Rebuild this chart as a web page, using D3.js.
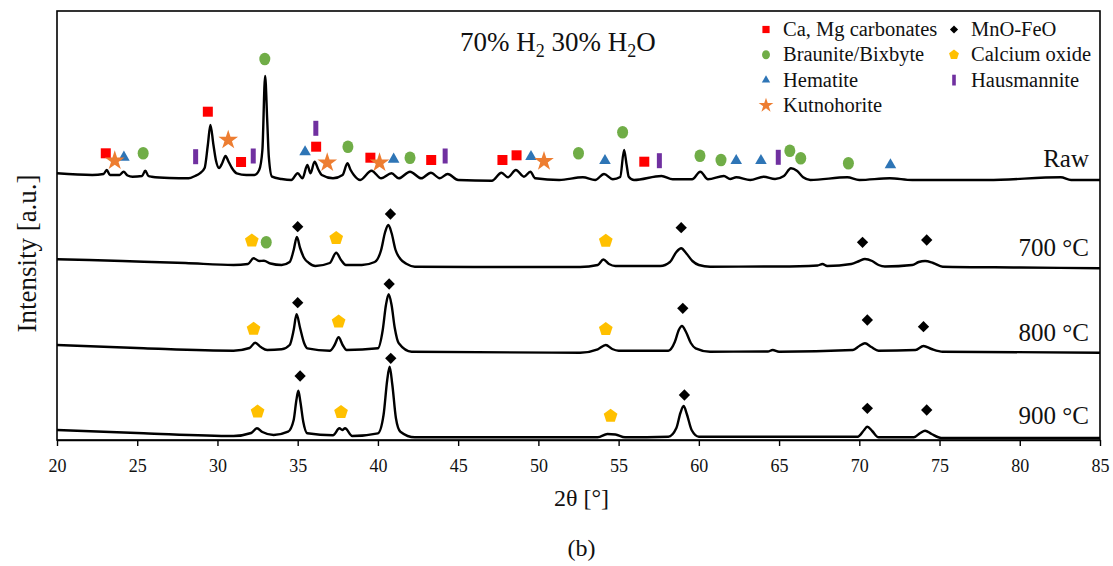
<!DOCTYPE html>
<html>
<head>
<meta charset="utf-8">
<script src="https://cdn.jsdelivr.net/npm/d3@7"></script>
<style>
  body { margin: 0; background: #fff; }
  svg text { font-family: "Liberation Serif", "Times New Roman", serif; fill: #111; }
</style>
</head>
<body>
<svg id="chart" width="1113" height="566"></svg>
<script>
// patrones DRX, [2theta, intensidad a.u.]
const patternNames = ["Raw", "700 °C", "800 °C", "900 °C"];

const rawTrace = [
  [20,266.7],[22.2,265],[22.9,266],[23.1,270],[23.3,265],[23.9,265],[24.15,268.3],[24.4,264.5],
  [24.7,263.3],[25.3,264],[25.5,269.3],[25.7,264],[25.9,263.3],[27,262],[28.2,261.7],[28.6,264],
  [28.9,266.7],[29.2,272],[29.4,295],[29.56,315],[29.75,295],[29.9,280],[30.1,272],[30.3,277],
  [30.5,284],[30.7,278],[30.9,272],[31.2,266.7],[31.8,265],[32.3,265],[32.6,270],[32.8,290],
  [32.97,364],[33.1,320],[33.2,283.3],[33.4,263.3],[34,261],[34.6,260],[35,266.7],[35.3,261.7],
  [35.6,275],[35.8,266.7],[36.05,278.3],[36.3,270],[36.5,265],[37.2,261.7],[37.8,265],[38.1,276.7],
  [38.3,270],[38.5,265],[38.9,260],[39.6,269.3],[40.2,261.7],[40.85,266.7],[41.3,261.7],[42,268.3],
  [42.7,261.7],[43.3,267.3],[43.85,261.7],[44.35,266],[45,260],[47.1,259.3],[47.7,267.3],[48.1,262.7],
  [48.6,270],[49.1,263.3],[49.5,268.3],[49.8,261.7],[51.3,260],[52.77,262.7],[53.54,260],[54.09,266],
  [54.64,260.7],[55.1,263],[55.34,290],[55.5,275],[55.63,263.3],[55.96,260],[57.67,264],[58.37,260.7],
  [59.58,260.7],[60.09,268.3],[60.57,260.7],[61.56,264],[61.95,261],[62.33,262.7],[63.2,260],[64.04,263.3],
  [64.75,261],[65.3,264],[65.74,271.7],[66.11,269.3],[66.5,262.7],[66.95,260],[69.25,262.7],[70,260],
  [71.9,261.7],[73.3,260],[78,260],[82.55,262.7],[83.2,260],[85,260]
];

const trace700 = [
  [20,180.7],[22,180],[25.4,178.3],[28,177],[31,175],[31.9,176],[32.25,181.7],[32.6,179],[32.9,179.3],
  [33.3,176.5],[34,175],[34.5,178],[34.75,190],[34.95,203],[35.15,192],[35.4,182],[35.7,177],[36.1,174],
  [37,177],[37.4,187.3],[37.7,180],[38,175],[39,175],[39.8,178],[40.2,190],[40.45,208],[40.65,215],
  [40.85,207],[41.1,190],[41.4,181],[41.8,176],[42.3,173.3],[46,173],[50,173],[52.6,173],[53.7,175],
  [54.05,180.5],[54.4,176],[54.8,174],[57.6,174],[58.2,178],[58.6,188],[58.9,191.7],[59.2,187],
  [59.6,179],[60,175],[60.7,173.3],[65,173.5],[67.4,174.5],[67.7,176],[68,174],[69.5,176],[70,179],
  [70.35,181],[70.8,179],[71.2,175],[71.6,173.5],[73.3,175],[73.7,178],[74.1,179],[74.6,177],
  [75.2,173.3],[80,172.5],[85,171.7]
];

const trace800 = [
  [20,95],[25.4,91.7],[31,89.3],[32,92],[32.35,97.3],[32.7,93],[33.1,90],[34,90.7],[34.5,95],
  [34.75,110],[34.93,125.7],[35.15,112],[35.4,97],[35.6,91.7],[37,89.3],[37.3,95],[37.55,102.7],
  [37.8,95],[38.05,90],[40,91.7],[40.3,110],[40.5,135],[40.67,145.7],[40.85,135],[41.05,112],
  [41.3,96.7],[42.1,88.3],[52.6,87.3],[53.7,90.7],[54.2,95],[54.6,91],[55,89.3],[58.1,89.3],
  [58.5,98],[58.75,110],[58.95,114],[59.2,108],[59.5,97],[59.8,91.7],[60.7,88.3],[64.3,88.5],
  [64.6,90],[65,88.3],[69.6,90],[70,94],[70.35,96.7],[70.75,93],[71.2,89.3],[73.5,90],[74,94],
  [74.5,91],[75.2,88.3],[85,87.3]
];

const trace900 = [
  [20,10],[25.4,6.7],[31,4],[32.1,7],[32.46,11.7],[32.8,8],[33.5,5],[34.4,8.3],[34.75,20],[34.92,40],
  [35.04,49.3],[35.17,38],[35.35,18],[35.6,6.7],[37.2,4.7],[37.6,11.7],[37.78,10],[37.95,11.7],[38.4,4],
  [40,6.7],[40.35,25],[40.58,60],[40.73,73.3],[40.9,55],[41.12,22],[41.4,8.3],[42.3,2.7],[52.6,2.7],
  [53.7,2.7],[54.3,6],[54.8,5.5],[55.4,2.7],[58.1,3.3],[58.6,12],[58.85,27],[59.05,34],[59.25,26],
  [59.55,10],[60,3.3],[69.9,3.3],[70.3,10],[70.5,13.3],[70.8,9],[71.2,2.7],[73.4,2.7],[73.8,7],
  [74.1,9.3],[74.5,6],[75.1,2],[85,2]
];

// fases identificadas: [2theta, intensidad del marcador]
const phaseNames = ["Ca, Mg carbonates", "Braunite/Bixbyte", "Hematite", "Kutnohorite",
                    "MnO-FeO", "Calcium oxide", "Hausmannite"];
const carbonates = [[23.04,286.7],[29.4,328.3],[31.47,278],[36.15,293.3],[39.53,282.3],[43.32,280],
                    [47.76,280],[48.64,284.7],[56.6,278.3]];
const braunite = [[25.37,286.7],[32.95,381],[38.13,293.3],[42,282.3],[52.5,286.7],[55.25,307.7],
                  [60.07,284.3],[61.38,280],[65.67,289.3],[66.35,281.7],[69.32,276.7],[33.04,197.7]];
const hematite = [[24.17,282.7],[35.46,288],[40.98,280.7],[49.54,283.3],[54.15,279.3],[62.33,279.3],
                  [63.87,279.3],[71.94,275]];
const kutnohorite = [[23.6,279.3],[30.67,300],[36.84,277.3],[40.1,277.3],[50.35,278.7]];
const mnoFeo = [[35,213.3],[40.78,226],[58.9,212.3],[70.2,197.7],[74.2,200],
                [35,137.3],[40.7,156],[59,131.7],[70.5,120],[74,113.3],
                [35.15,64],[40.8,81.7],[59.1,45],[70.5,31.7],[74.2,30]];
const calciumOxide = [[32.14,199.3],[37.4,201.7],[54.2,199],
                      [32.25,111],[37.55,118.3],[54.2,110.7],
                      [32.5,28.3],[37.7,27.7],[54.5,24]];
const hausmannite = [[28.64,283.3],[32.23,284],[36.13,311.7],[44.19,284],[57.54,279.3],[64.95,282.7]];

const xTicks = d3.range(20, 86, 5);

const svg = d3.select("#chart");
const plotLeft = 57, plotRight = 1100, plotTop = 11, plotBottom = 440;

const x = d3.scaleLinear().domain([20, 85]).range([plotLeft, plotRight]);
const y = d3.scaleLinear().domain([0, 429]).range([plotBottom, plotTop]);

// trazas
const line = d3.line().x(d => x(d[0])).y(d => y(d[1])).curve(d3.curveMonotoneX);
[rawTrace, trace700, trace800, trace900].forEach(t => {
  svg.append("path")
    .attr("d", line(t))
    .attr("fill", "none")
    .attr("stroke", "#000")
    .attr("stroke-width", 2.4)
    .attr("stroke-linejoin", "round");
});

// simbolos
const pentagon = r => d3.range(5).map(k => {
  const a = -Math.PI / 2 + k * 2 * Math.PI / 5;
  return [r * Math.cos(a), r * Math.sin(a)];
});

function drawMarker(g, key, s) {
  // s = escala del simbolo (1 en el grafico, menor en la leyenda)
  if (key === 0) {
    g.append("rect").attr("x", -5 * s).attr("y", -5 * s).attr("width", 10 * s).attr("height", 10 * s)
      .attr("fill", "#ff0000");
  } else if (key === 1) {
    g.append("ellipse").attr("rx", 5.5 * s).attr("ry", 6.3 * s).attr("fill", "#70ad47");
  } else if (key === 2) {
    g.append("path").attr("d", d3.symbol(d3.symbolTriangle, 58 * s * s)()).attr("fill", "#2e75b6");
  } else if (key === 3) {
    g.append("path").attr("d", d3.symbol(d3.symbolStar, 120 * s * s)()).attr("fill", "#ed7d31");
  } else if (key === 4) {
    g.append("rect").attr("x", -4 * s).attr("y", -4 * s).attr("width", 8 * s).attr("height", 8 * s)
      .attr("transform", "rotate(45)").attr("fill", "#000");
  } else if (key === 5) {
    g.append("polygon").attr("points", pentagon(7.2 * s).join(" ")).attr("fill", "#ffc000");
  } else if (key === 6) {
    g.append("rect").attr("x", -2.5 * s).attr("y", -7.5 * s).attr("width", 5 * s).attr("height", 15 * s)
      .attr("fill", "#7030a0");
  }
}

[carbonates, braunite, hematite, kutnohorite, mnoFeo, calciumOxide, hausmannite].forEach((pts, k) => {
  pts.forEach(p => {
    const g = svg.append("g").attr("transform", `translate(${x(p[0])},${y(p[1])})`);
    drawMarker(g, k, 1);
  });
});

// marco
svg.append("rect")
  .attr("x", plotLeft).attr("y", plotTop)
  .attr("width", plotRight - plotLeft).attr("height", plotBottom - plotTop)
  .attr("fill", "none").attr("stroke", "#000").attr("stroke-width", 1.6);

// eje x
const xAxis = svg.append("g")
  .attr("transform", `translate(0,${plotBottom})`)
  .attr("font-family", '"Liberation Serif", serif')
  .call(d3.axisBottom(x).tickValues(xTicks).tickSize(6).tickSizeOuter(0).tickPadding(13));
xAxis.select(".domain").attr("stroke", "#000").attr("stroke-width", 1.6);
xAxis.selectAll(".tick line").attr("stroke", "#000").attr("stroke-width", 1.4);
xAxis.selectAll(".tick text")
  .style("font-family", '"Liberation Serif", serif')
  .style("font-size", "18px").attr("fill", "#111");

svg.append("text")
  .attr("x", (plotLeft + plotRight) / 2 + 3).attr("y", 506)
  .attr("text-anchor", "middle").style("font-size", "24px")
  .text("2θ [°]");

svg.append("text")
  .attr("x", (plotLeft + plotRight) / 2 + 3).attr("y", 556)
  .attr("text-anchor", "middle").style("font-size", "24px")
  .text("(b)");

svg.append("text")
  .attr("transform", `translate(36,${(plotTop + plotBottom) / 2 + 28}) rotate(-90)`)
  .attr("text-anchor", "middle").style("font-size", "27px")
  .text("Intensity [a.u.]");

// titulo
const title = svg.append("text").attr("x", 460).attr("y", 51).style("font-size", "27px");
title.append("tspan").text("70% H");
title.append("tspan").attr("dy", 6).style("font-size", "18px").text("2");
title.append("tspan").attr("dy", -6).text(" 30% H");
title.append("tspan").attr("dy", 6).style("font-size", "18px").text("2");
title.append("tspan").attr("dy", -6).text("O");

// etiquetas de las curvas
const labelLevels = [282, 193, 108, 25];
patternNames.forEach((name, i) => {
  svg.append("text")
    .attr("x", 1089).attr("y", y(labelLevels[i]) + 8.5)
    .attr("text-anchor", "end").style("font-size", "25px")
    .text(name);
});

// leyenda
const legendCols = [766, 954];
const legendOrder = [[0, 0, 0], [1, 0, 1], [2, 0, 2], [3, 0, 3], [4, 1, 0], [5, 1, 1], [6, 1, 2]];
legendOrder.forEach(([k, col, row]) => {
  const cy = 29.5 + row * 25.3;
  const g = svg.append("g").attr("transform", `translate(${legendCols[col]},${cy})`);
  drawMarker(g, k, k === 3 ? 0.75 : 0.72);
  svg.append("text")
    .attr("x", legendCols[col] + 17).attr("y", cy + 6.5)
    .style("font-size", "20.5px")
    .text(phaseNames[k]);
});
</script>
</body>
</html>
